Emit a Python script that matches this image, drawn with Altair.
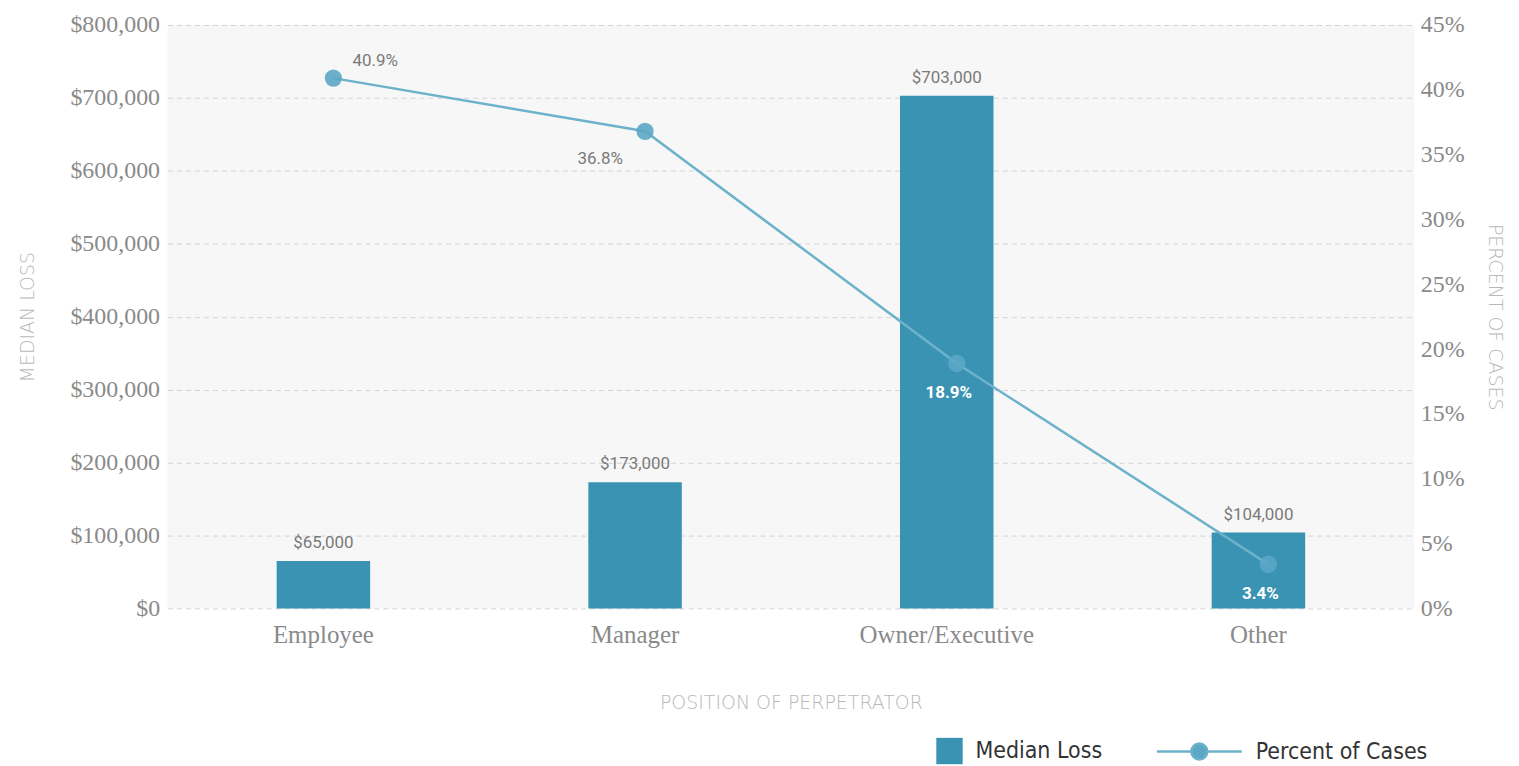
import altair as alt
import pandas as pd

categories = ["Employee", "Manager", "Owner/Executive", "Other"]
median_loss = [65000, 173000, 703000, 104000]
percent_cases = [40.9, 36.8, 18.9, 3.4]
loss_labels = ["$65,000", "$173,000", "$703,000", "$104,000"]
pct_labels = ["40.9%", "36.8%", "18.9%", "3.4%"]

df = pd.DataFrame({
    "position": categories,
    "loss": median_loss,
    "pct": percent_cases,
    "loss_label": loss_labels,
    "pct_label": pct_labels,
})

BAR = "#3a93b3"
LINE = "#6db2cb"
PT = "#5ba7c5"
GRAY = "#8a8a8a"
TITLE_GRAY = "#b8b8b8"
SERIF = "Liberation Serif"
SANS = "Roboto"
COND = "DejaVu Sans Condensed"

x = alt.X(
    "position:N",
    sort=categories,
    scale=alt.Scale(paddingInner=0.7, paddingOuter=0.35),
    axis=alt.Axis(
        title="POSITION OF PERPETRATOR",
        labelAngle=0,
        labelFont=SERIF,
        labelFontSize=25,
        labelColor=GRAY,
        labelPadding=14,
        ticks=False,
        domain=False,
        titleFont="DejaVu Sans",
        titleFontSize=19,
        titleFontWeight=300,
        titleColor=TITLE_GRAY,
        titlePadding=46,
    ),
)

y_left = alt.Y(
    "loss:Q",
    scale=alt.Scale(domain=[0, 800000]),
    axis=alt.Axis(
        title="MEDIAN LOSS",
        values=[0, 100000, 200000, 300000, 400000, 500000, 600000, 700000, 800000],
        format="$,.0f",
        labelFont=SERIF,
        labelFontSize=24,
        labelColor=GRAY,
        labelPadding=8,
        ticks=False,
        domain=False,
        grid=True,
        gridColor="#d4d4d4",
        gridDash=[5, 4],
        gridWidth=1,
        titleFont="DejaVu Sans",
        titleFontSize=19,
        titleFontWeight=300,
        titleColor=TITLE_GRAY,
        titlePadding=32,
    ),
)

bars = alt.Chart(df).transform_calculate(series="'Median Loss'").mark_bar(color=BAR).encode(
    x=x,
    y=y_left,
    color=alt.Color(
        "series:N",
        scale=alt.Scale(domain=["Median Loss"], range=[BAR]),
        legend=alt.Legend(
            title=None,
            orient="none",
            legendX=770,
            legendY=714,
            symbolType="square",
            symbolSize=700,
            labelFont=COND,
            labelFontSize=23,
            labelColor="#333333",
            labelOffset=12,
            labelLimit=300,
        ),
    ),
)

bar_text = alt.Chart(df).mark_text(
    font=SANS, fontSize=17, color="#7a7a7a", baseline="bottom", dy=-9
).encode(x=x, y=y_left, text="loss_label:N")

left = alt.layer(bars, bar_text)

y_right = alt.Y(
    "pct:Q",
    scale=alt.Scale(domain=[0, 45]),
    axis=alt.Axis(
        orient="right",
        title="PERCENT OF CASES",
        values=[0, 5, 10, 15, 20, 25, 30, 35, 40, 45],
        labelExpr="datum.value + '%'",
        labelFont=SERIF,
        labelFontSize=24,
        labelColor=GRAY,
        labelPadding=6,
        ticks=False,
        domain=False,
        grid=False,
        titleFont="DejaVu Sans",
        titleFontSize=19,
        titleFontWeight=300,
        titleColor=TITLE_GRAY,
        titlePadding=20,
    ),
)

# legend glyph: a line with a dot in the middle (unit coords scaled by sqrt(size)/2)
line_path = "M -4.25 0 L -0.8 0 M 0.8 0 L 4.25 0 M -0.8 0 A 0.8 0.8 0 1 0 0.8 0 A 0.8 0.8 0 1 0 -0.8 0"

line = alt.Chart(df).mark_line(
    strokeWidth=2.5, xOffset=10, color=LINE
).encode(x=x, y=y_right)

points = alt.Chart(df).transform_calculate(series2="'Percent of Cases'").mark_point(
    filled=True, size=300, opacity=0.9, xOffset=10
).encode(
    x=x,
    y=y_right,
    fill=alt.Fill(
        "series2:N",
        scale=alt.Scale(domain=["Percent of Cases"], range=[PT]),
        legend=alt.Legend(
            title=None,
            orient="none",
            legendX=1023,
            legendY=717,
            symbolType=line_path,
            symbolSize=400,
            symbolStrokeWidth=2.5,
            symbolStrokeColor=LINE,
            symbolOpacity=1,
            labelFont=COND,
            labelFontSize=23,
            labelColor="#333333",
            labelOffset=45,
            labelLimit=300,
        ),
    ),
)

lbl_emp = alt.Chart(df).transform_filter("datum.position == 'Employee'").mark_text(
    font=SANS, fontSize=17, color="#7a7a7a", dx=52, dy=-17
).encode(x=x, y=y_right, text="pct_label:N")

lbl_mgr = alt.Chart(df).transform_filter("datum.position == 'Manager'").mark_text(
    font=SANS, fontSize=17, color="#7a7a7a", dx=-35, dy=28
).encode(x=x, y=y_right, text="pct_label:N")

lbl_in = alt.Chart(df).transform_filter(
    "datum.position == 'Owner/Executive' || datum.position == 'Other'"
).mark_text(
    font=SANS, fontSize=17, color="#ffffff", fontWeight="bold", dx=2, dy=30
).encode(x=x, y=y_right, text="pct_label:N")

right = alt.layer(line, points, lbl_emp, lbl_mgr, lbl_in)

chart = alt.layer(left, right).resolve_scale(
    y="independent"
).properties(
    width=1250,
    height=585,
    background="#ffffff",
    padding={"left": 11, "top": 4, "right": 8, "bottom": 0},
).configure_view(
    fill="#f7f7f7", stroke=None
)

chart.save("out.html", embed_options={"renderer": "svg", "actions": False})
